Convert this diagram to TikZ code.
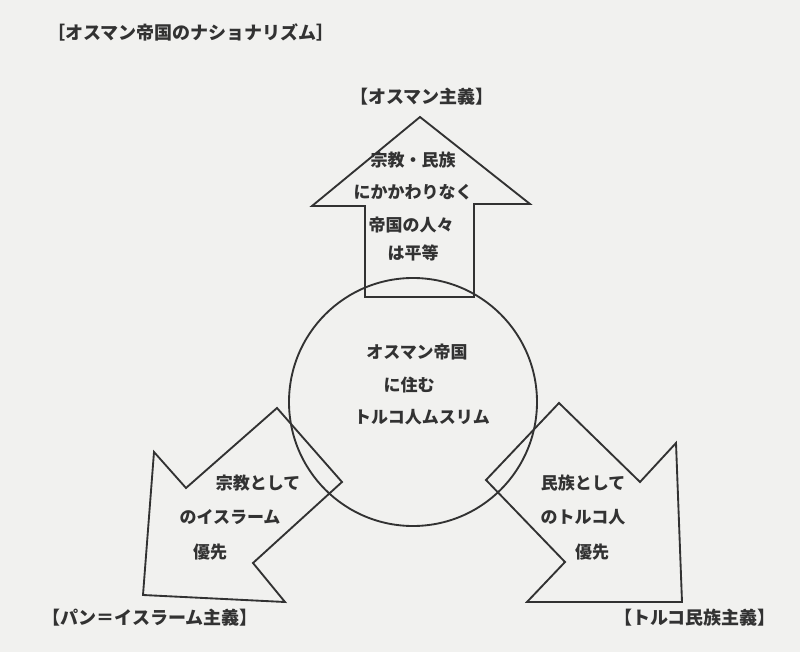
\documentclass[tikz,border=0pt]{standalone}
\usepackage{tikz}
\usepackage{fontspec}
\newfontfamily\cjk{Noto Sans CJK JP}
\definecolor{ink}{RGB}{50,50,50}
\definecolor{paper}{RGB}{241,241,239}

\begin{document}
\begin{tikzpicture}[x=0.75pt,y=-0.75pt,
  outline/.style={draw=ink, line width=1.4pt, line join=miter},
  txt/.style={font=\cjk\bfseries\fontsize{12.75}{15}\selectfont, text=ink, inner sep=0pt},
  headtxt/.style={txt, font=\cjk\bfseries\fontsize{13.5}{16}\selectfont}]
\useasboundingbox (0,0) rectangle (800,652);
\fill[paper] (0,0) rectangle (800,652);
\node[headtxt] (title) at (191,32) {［オスマン帝国のナショナリズム］};
\draw[outline] (420,117) -- (530,204) -- (474,204) -- (474,297) -- (365,297) -- (365,206) -- (312,206) -- cycle;
\draw[outline] (277,408) -- (342,482) -- (253,563) -- (285,602) -- (143,595) -- (154,452) -- (186,488) -- cycle;
\draw[outline] (559,403) -- (640,482) -- (676,443) -- (682,602) -- (527,602) -- (565,562) -- (486,480) -- cycle;
\draw[outline] (413,402) circle (124);
\node[headtxt] (ottomanism) at (422,97) {【オスマン主義】};
\node[txt] (up1) at (413,160) {宗教・民族};
\node[txt] (up2) at (413,192) {にかかわりなく};
\node[txt] (up3) at (411,225) {帝国の人々};
\node[txt] (up4) at (413,253) {は平等};
\node[txt] (mid1) at (417,352) {オスマン帝国};
\node[txt] (mid2) at (409,385) {に住む};
\node[txt] (mid3) at (422,417) {トルコ人ムスリム};
\node[txt] (left1) at (258,483) {宗教として};
\node[txt] (left2) at (230,517) {のイスラーム};
\node[txt] (left3) at (210,552) {優先};
\node[txt] (right1) at (583,483) {民族として};
\node[txt] (right2) at (583,517) {のトルコ人};
\node[txt] (right3) at (592,552) {優先};
\node[headtxt] (panislam) at (150,618) {【パン＝イスラーム主義】};
\node[headtxt] (turkism) at (695,618) {【トルコ民族主義】};
\end{tikzpicture}
\end{document}
